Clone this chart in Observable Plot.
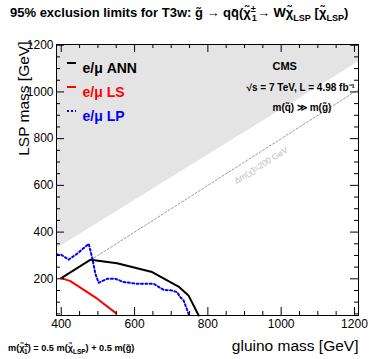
<!DOCTYPE html>
<html><head><meta charset="utf-8">
<script src="https://cdn.jsdelivr.net/npm/d3@7"></script>
<script src="https://cdn.jsdelivr.net/npm/@observablehq/plot@0.6"></script>
<style>
body{margin:0;background:#fff;}
#wrap{position:relative;width:374px;height:359px;font-family:"Liberation Sans",Arial,sans-serif;}
.title{position:absolute;left:10px;top:5px;font-weight:bold;font-size:13px;white-space:nowrap;}
.note{position:absolute;left:8px;top:343px;font-weight:bold;font-size:9.2px;white-space:nowrap;}
sub,sup{font-size:70%;line-height:0;}
</style></head><body><div id="wrap">
<div class="title">95% exclusion limits for T3w: g̃ → qq̄(χ̃<sup>±</sup><sub style="margin-left:-4px">1</sub>→ Wχ̃<sub>LSP</sub> [χ̃<sub>LSP</sub>)</div>
<div class="note">m(χ̃<sup>±</sup><sub style="margin-left:-4px">1</sub>) = 0.5 m(χ̃<sub>LSP</sub>) + 0.5 m(g̃)</div>
</div>
<script>
// data (GeV)
const annGluino = [400, 480, 552, 648, 720, 747, 775];
const annLsp    = [203, 282, 267, 229, 167, 129, 43];
const lsGluino  = [400, 425, 498, 550];
const lsLsp     = [203, 190, 115, 52];
const lpGluino  = [388, 400, 420, 443, 475, 484, 493, 502, 525, 548, 570, 607, 652, 679, 702, 716, 725, 734, 749];
const lpLsp     = [304, 303, 282, 307, 350, 293, 222, 183, 200, 200, 186, 179, 179, 153, 150, 143, 121, 107, 43];
const kinGluino = [387, 1211];
const kinLsp    = [329, 1128];
const dmGluino  = [480, 1211];
const dmLsp     = [280, 1011];
const xMajor = [400, 600, 800, 1000, 1200];
const yMajor = [200, 400, 600, 800, 1000, 1200];
const xMinor = d3.range(450, 1200, 50).filter(v => !xMajor.includes(v));
const yMinor = d3.range(50, 1200, 50).filter(v => !yMajor.includes(v));
const legendLabels = ["e/μ ANN", "e/μ LS", "e/μ LP"];
const legendColors = ["#000000", "#ff0000", "#0000ff"];

const W = 374, H = 359, mt = 44, mb = 44, ml = 56, mr = 16;
const FH = H - mt - mb, FW = W - ml - mr;
const X0 = 387, X1 = 1211, Y0 = 43, Y1 = 1203;

const toRows = (xs, ys) => xs.map((x, i) => ({x, y: ys[i]}));
const ann = toRows(annGluino, annLsp);
const ls = toRows(lsGluino, lsLsp);
const lp = toRows(lpGluino, lpLsp);
const kin = toRows(kinGluino, kinLsp);
const dm = toRows(dmGluino, dmLsp);
const legendY = i => 19 + 24 * i;

const chart = Plot.plot({
  width: W, height: H,
  marginTop: mt, marginBottom: mb, marginLeft: ml, marginRight: mr,
  style: {fontFamily: "Liberation Sans, Arial, sans-serif", fontSize: "12px", background: "transparent"},
  x: {domain: [X0, X1]},
  y: {domain: [Y0, Y1]},
  marks: [
    Plot.areaY(kin, {x: "x", y1: "y", y2: Y1, fill: "#e4e4e4"}),
    Plot.line(dm, {x: "x", y: "y", stroke: "#999", strokeWidth: 1, strokeDasharray: "2,2"}),
    Plot.text(["Δm(χ̃)=200 GeV"], {x: 945, y: 745, text: d => d, rotate: -32, dy: 14, fill: "#bbb", fontSize: 8.5}),
    Plot.line(ann, {x: "x", y: "y", stroke: "#000", strokeWidth: 2}),
    Plot.line(ls, {x: "x", y: "y", stroke: "#ff0000", strokeWidth: 2}),
    Plot.line(lp, {x: "x", y: "y", stroke: "#0000ff", strokeWidth: 2, strokeDasharray: "2,2.4"}),
    // ticks inward on all sides
    Plot.ruleX(xMajor, {x: d => d, insetTop: FH - 8, stroke: "#000"}),
    Plot.ruleX(xMinor, {x: d => d, insetTop: FH - 4, stroke: "#000"}),
    Plot.ruleX(xMajor, {x: d => d, insetBottom: FH - 8, stroke: "#000"}),
    Plot.ruleX(xMinor, {x: d => d, insetBottom: FH - 4, stroke: "#000"}),
    Plot.ruleY(yMajor, {y: d => d, insetRight: FW - 8, stroke: "#000"}),
    Plot.ruleY(yMinor, {y: d => d, insetRight: FW - 4, stroke: "#000"}),
    Plot.ruleY(yMajor, {y: d => d, insetLeft: FW - 8, stroke: "#000"}),
    Plot.ruleY(yMinor, {y: d => d, insetLeft: FW - 4, stroke: "#000"}),
    Plot.frame({stroke: "#000"}),
    Plot.axisX(xMajor, {tickSize: 0, tickPadding: 4, fontSize: 12, label: null, tickFormat: d => String(d)}),
    Plot.axisY(yMajor, {tickSize: 0, tickPadding: 3, fontSize: 12, label: null, tickFormat: d => String(d)}),
    Plot.text(["LSP mass [GeV]"], {frameAnchor: "top-left", text: d => d, rotate: -90, textAnchor: "end", dx: -39, dy: -3, fontSize: 15.5}),
    Plot.text(["gluino mass [GeV]"], {frameAnchor: "bottom-right", text: d => d, textAnchor: "end", dy: 35, fontSize: 15.5}),
    // legend
    ...legendLabels.map((t, i) => Plot.text([t], {frameAnchor: "top-left", text: d => d, fill: legendColors[i], dx: 26, dy: legendY(i), textAnchor: "start", fontWeight: "bold", fontSize: 14})),
    // CMS annotations
    Plot.text(["CMS"], {frameAnchor: "top-left", text: d => d, dx: 216, dy: 18, textAnchor: "start", fontWeight: "bold", fontSize: 11}),
    Plot.text(["√s = 7 TeV, L = 4.98 fb⁻¹"], {frameAnchor: "top-left", text: d => d, dx: 190, dy: 39, textAnchor: "start", fontWeight: "bold", fontSize: 10}),
    Plot.text(["m(q̃) ≫ m(g̃)"], {frameAnchor: "top-left", text: d => d, dx: 216, dy: 59, textAnchor: "start", fontWeight: "bold", fontSize: 10})
  ]
});
chart.style.position = "absolute";
chart.style.left = "0"; chart.style.top = "0";
document.getElementById("wrap").prepend(chart);

// legend swatches
const svg = d3.select(chart);
legendColors.forEach((c, i) => {
  svg.append("line")
    .attr("x1", ml + 11).attr("x2", ml + 20)
    .attr("y1", mt + legendY(i)).attr("y2", mt + legendY(i))
    .attr("stroke", c).attr("stroke-width", 2)
    .attr("stroke-dasharray", i === 2 ? "2,2" : null);
});
</script>
</body></html>
